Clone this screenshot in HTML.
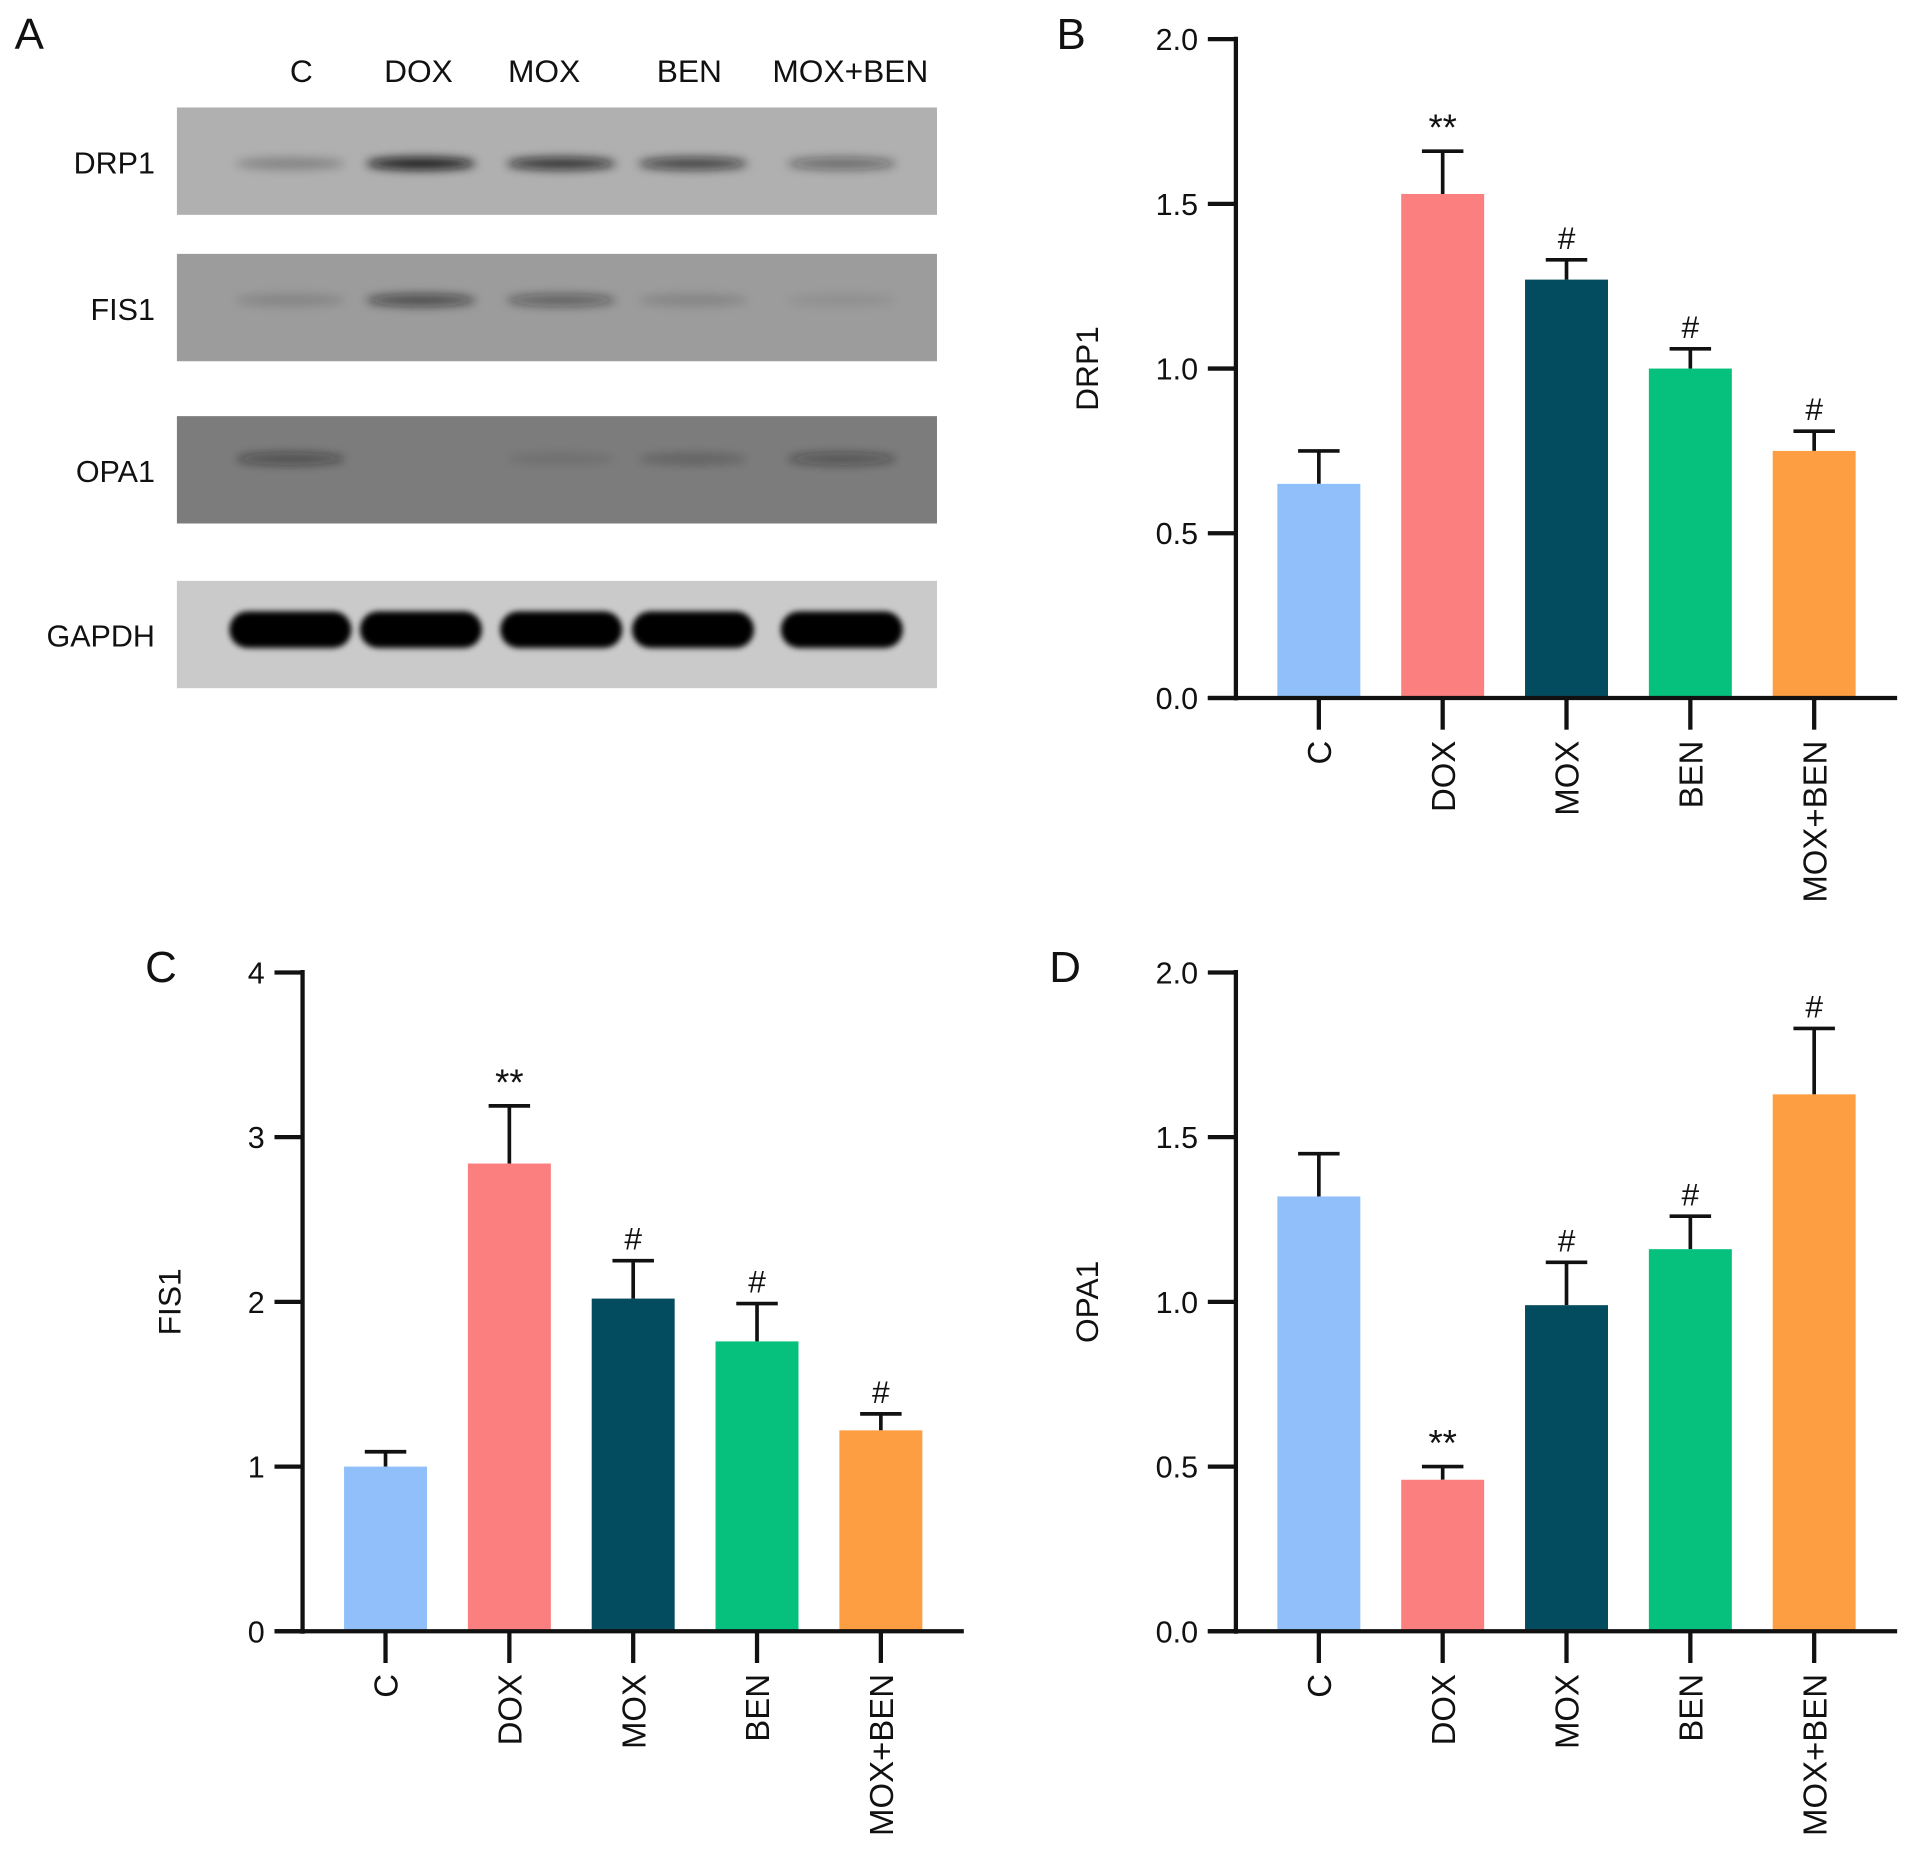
<!DOCTYPE html>
<html><head><meta charset="utf-8"><style>
html,body{margin:0;padding:0;background:#fff}
svg{display:block}
text{font-family:"Liberation Sans",Arial,sans-serif;fill:#111}
</style></head><body>
<svg id="fig" width="1913" height="1851" viewBox="0 0 1568 1517" xmlns="http://www.w3.org/2000/svg">
<defs>
<filter id="blur" x="-20%" y="-100%" width="140%" height="300%"><feGaussianBlur stdDeviation="4"/></filter>
<filter id="blur2" x="-20%" y="-100%" width="140%" height="300%"><feGaussianBlur stdDeviation="2.5"/></filter>
</defs>
<g id="panelA">
<text x="12" y="40" font-size="36">A</text>
</g>
<g id="charts"></g>
</svg>
<script>
const categories = ["C","DOX","MOX","BEN","MOX+BEN"];
const colors = ["#90bff9","#fb7f7f","#034b5e","#06c07e","#fd9e43"];
const drp1Values = [0.65,1.53,1.27,1.0,0.75];
const drp1Errors = [0.10,0.13,0.06,0.06,0.06];
const drp1Marks = ["","**","#","#","#"];
const drp1Ticks = ["0.0","0.5","1.0","1.5","2.0"];
const fis1Values = [1.0,2.84,2.02,1.76,1.22];
const fis1Errors = [0.09,0.35,0.23,0.23,0.10];
const fis1Marks = ["","**","#","#","#"];
const fis1Ticks = ["0","1","2","3","4"];
const opa1Values = [1.32,0.46,0.99,1.16,1.63];
const opa1Errors = [0.13,0.04,0.13,0.10,0.20];
const opa1Marks = ["","**","#","#","#"];
const opa1Ticks = ["0.0","0.5","1.0","1.5","2.0"];
const blotRows = ["DRP1","FIS1","OPA1","GAPDH"];
const drp1Bands = [0.25,0.95,0.8,0.7,0.45];
const fis1Bands = [0.15,0.6,0.45,0.15,0.08];
const opa1Bands = [0.45,0.0,0.1,0.2,0.4];
const gapdhBands = [1,1,1,1,1];

const NS="http://www.w3.org/2000/svg";
const svg=document.getElementById('fig');
function mk(tag,attrs,parent){const e=document.createElementNS(NS,tag);for(const k in attrs)e.setAttribute(k,attrs[k]);(parent||svg).appendChild(e);return e;}

const pA=document.getElementById('panelA');
const laneX=[238,345,460,568,690];
const laneLabelX=[247,343,446,565,697];
categories.forEach((c,i)=>{const t=mk('text',{x:laneLabelX[i],y:67,'font-size':26,'text-anchor':'middle'},pA);t.textContent=c;

});
const rowY=[88,208,341,476];
const rowBg=["#b0b0b0","#9c9c9c","#7c7c7c","#cacaca"];
const bands=[drp1Bands,fis1Bands,opa1Bands,gapdhBands];
blotRows.forEach((r,ri)=>{
  const g=mk('g',{},pA);
  
  
  mk('rect',{x:145,y:rowY[ri],width:623,height:88,fill:rowBg[ri]},g);
  const lbl=mk('text',{x:127,y:rowY[ri]+54,'font-size':25,'text-anchor':'end'},g);lbl.textContent=r;
  
  
  const bandY=[134,246,376,516][ri];
  bands[ri].forEach((b,i)=>{
    if(b<=0)return;
    if(ri===3){
      const e=mk('rect',{x:laneX[i]-50,y:bandY-15,width:100,height:30,rx:15,fill:'#050505'},g);
      e.setAttribute('filter','url(#blur2)');
      
      
    } else {
      const e=mk('ellipse',{cx:laneX[i],cy:bandY,rx:45,ry:5,fill:'#111','fill-opacity':b},g);
      e.setAttribute('filter','url(#blur)');
      
      
    }
  });
});

const ch=document.getElementById('charts');
function chart(name,letter,lx,ly,axisX,topY,zeroY,ymax,ticks,vals,errs,marks,title,titleX){
  const g=mk('g',{},ch);
  
  
  const yS=v=>zeroY-(v/ymax)*(zeroY-topY);
  const xC=i=>axisX+68+i*101.5;
  const L=mk('text',{x:lx,y:ly,'font-size':36},g);L.textContent=letter;
  
  
  vals.forEach((v,i)=>{
    const x=xC(i);
    const top=yS(v+errs[i]);
    const el=mk('line',{x1:x,x2:x,y1:yS(v),y2:top,stroke:'#111','stroke-width':3},g);
    
    
    const cap=mk('line',{x1:x-17,x2:x+17,y1:top,y2:top,stroke:'#111','stroke-width':3},g);
    
    
    const r=mk('rect',{x:x-34,y:yS(v),width:68,height:zeroY-yS(v),fill:colors[i]},g);
    
    
    if(marks[i]){
      const m=mk('text',{x:x,y:top-9,'font-size':marks[i]==='#'?26:30,'text-anchor':'middle','font-family':'Liberation Serif'},g);
      m.textContent=marks[i];
      
      
    }
    const tk=mk('line',{x1:x,x2:x,y1:zeroY,y2:zeroY+26,stroke:'#111','stroke-width':3.5},g);
    
    
    const t=mk('text',{x:0,y:0,'font-size':27,'text-anchor':'end',transform:`translate(${x+10},${zeroY+35}) rotate(-90)`},g);
    t.textContent=categories[i];
    
    
  });
  const ya=mk('line',{x1:axisX,x2:axisX,y1:topY-2,y2:zeroY+2,stroke:'#111','stroke-width':3.5},g);
  
  
  const xa=mk('line',{x1:axisX-23,x2:axisX+542,y1:zeroY,y2:zeroY,stroke:'#111','stroke-width':3.5},g);
  
  
  ticks.forEach((tl,i)=>{
    const v=i*ymax/(ticks.length-1);const y=yS(v);
    const tk=mk('line',{x1:axisX-23,x2:axisX,y1:y,y2:y,stroke:'#111','stroke-width':3.5},g);
    
    
    const t=mk('text',{x:axisX-31,y:y+9,'font-size':25,'text-anchor':'end'},g);t.textContent=tl;
    
    
  });
  const tt=mk('text',{x:0,y:0,'font-size':26,'text-anchor':'middle',transform:`translate(${titleX},${(topY+zeroY)/2}) rotate(-90)`},g);
  tt.textContent=title;
  
  
}
chart('drp1-chart','B',866,40,1013,32,572,2,drp1Ticks,drp1Values,drp1Errors,drp1Marks,'DRP1',900);
chart('fis1-chart','C',119,805,248,797,1337,4,fis1Ticks,fis1Values,fis1Errors,fis1Marks,'FIS1',148);
chart('opa1-chart','D',860,805,1013,797,1337,2,opa1Ticks,opa1Values,opa1Errors,opa1Marks,'OPA1',900);
</script>
</body></html>
